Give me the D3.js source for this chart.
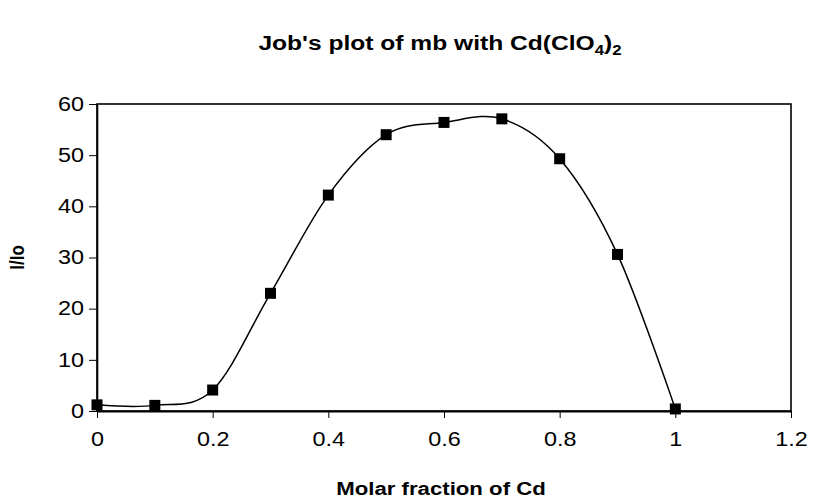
<!DOCTYPE html>
<html>
<head>
<meta charset="utf-8">
<title>Job's plot</title>
<script src="https://d3js.org/d3.v7.min.js"></script>
<style>
  body { margin: 0; background: white; }
  text { font-family: "Liberation Sans", Arial, sans-serif; fill: #000; }
  /* the original picture has its lettering a bit stretched sideways */
  .wide { transform-box: fill-box; transform-origin: center; transform: scaleX(1.2); }
  .wide-r { transform-box: fill-box; transform-origin: right center; transform: scaleX(1.2); }
  .wide-v { transform-box: fill-box; transform-origin: center; transform: scaleY(1.2); }
</style>
</head>
<body>
<div id="chart"></div>
<script>
// data
var molarFraction = [0, 0.1, 0.2, 0.3, 0.4, 0.5, 0.6, 0.7, 0.8, 0.9, 1];
var intensity = [1.2, 1.1, 4.1, 23, 42.2, 54, 56.4, 57.1, 49.3, 30.6, 0.4];
var xTicks = [0, 0.2, 0.4, 0.6, 0.8, 1, 1.2];
var yTicks = [0, 10, 20, 30, 40, 50, 60];

var width = 815, height = 502;
var margin = {top: 104, right: 24, bottom: 91, left: 97};

var svg = d3.select("#chart").append("svg")
    .attr("width", width)
    .attr("height", height);

var x = d3.scaleLinear().domain([0, 1.2]).range([margin.left, width - margin.right]);
var y = d3.scaleLinear().domain([0, 60]).range([height - margin.bottom, margin.top]);

// plot area frame
svg.append("rect")
    .attr("x", x(0)).attr("y", y(60))
    .attr("width", x(1.2) - x(0)).attr("height", y(0) - y(60))
    .attr("fill", "none").attr("stroke", "#000").attr("stroke-width", 1.6);

var xAxis = svg.append("g")
    .attr("transform", "translate(0," + y(0) + ")")
    .call(d3.axisBottom(x).tickValues(xTicks).tickSize(7).tickSizeOuter(0).tickPadding(14)
        .tickFormat(function(d){ return String(+d.toFixed(1)); }));
xAxis.select(".domain").attr("stroke-width", 2.2);
xAxis.selectAll("line").attr("stroke-width", 1);
xAxis.selectAll("text").attr("class", "wide").style("font-size", "19.5px");

var yAxis = svg.append("g")
    .attr("transform", "translate(" + x(0) + ",0)")
    .call(d3.axisLeft(y).tickValues(yTicks).tickSize(8).tickSizeOuter(0).tickPadding(5));
yAxis.select(".domain").attr("stroke-width", 1.6);
yAxis.selectAll("text").attr("class", "wide-r").style("font-size", "19.5px");

// smoothed line
var pts = molarFraction.map(function(d, i){ return [d, intensity[i]]; });
var line = d3.line()
    .x(function(d){ return x(d[0]); })
    .y(function(d){ return y(d[1]); })
    .curve(d3.curveCardinal.tension(0));

svg.append("path")
    .datum(pts)
    .attr("d", line)
    .attr("fill", "none")
    .attr("stroke", "#000")
    .attr("stroke-width", 1.5);

// square markers
var ms = 11;
svg.selectAll("rect.pt")
    .data(pts)
    .enter().append("rect")
    .attr("class", "pt")
    .attr("x", function(d){ return x(d[0]) - ms/2; })
    .attr("y", function(d){ return y(d[1]) - ms/2; })
    .attr("width", ms).attr("height", ms)
    .attr("fill", "#000");

// title
var title = svg.append("text")
    .attr("class", "wide")
    .attr("x", 440).attr("y", 50)
    .attr("text-anchor", "middle")
    .style("font-size", "20.5px").style("font-weight", "bold");
title.append("tspan").text("Job's plot of mb with Cd(ClO");
title.append("tspan").attr("dy", 5).style("font-size", "14px").text("4");
title.append("tspan").attr("dy", -5).text(")");
title.append("tspan").attr("dy", 5).style("font-size", "14px").text("2");

svg.append("text")
    .attr("class", "wide")
    .attr("x", 441).attr("y", 495)
    .attr("text-anchor", "middle")
    .style("font-size", "18.5px").style("font-weight", "bold")
    .text("Molar fraction of Cd");

// y title: rotate on the group, stretch on the text
svg.append("g")
    .attr("transform", "translate(23," + ((y(0) + y(60)) / 2) + ") rotate(-90)")
  .append("text")
    .attr("class", "wide-v")
    .attr("text-anchor", "middle")
    .style("font-size", "17px").style("font-weight", "bold")
    .text("I/Io");
</script>
</body>
</html>
